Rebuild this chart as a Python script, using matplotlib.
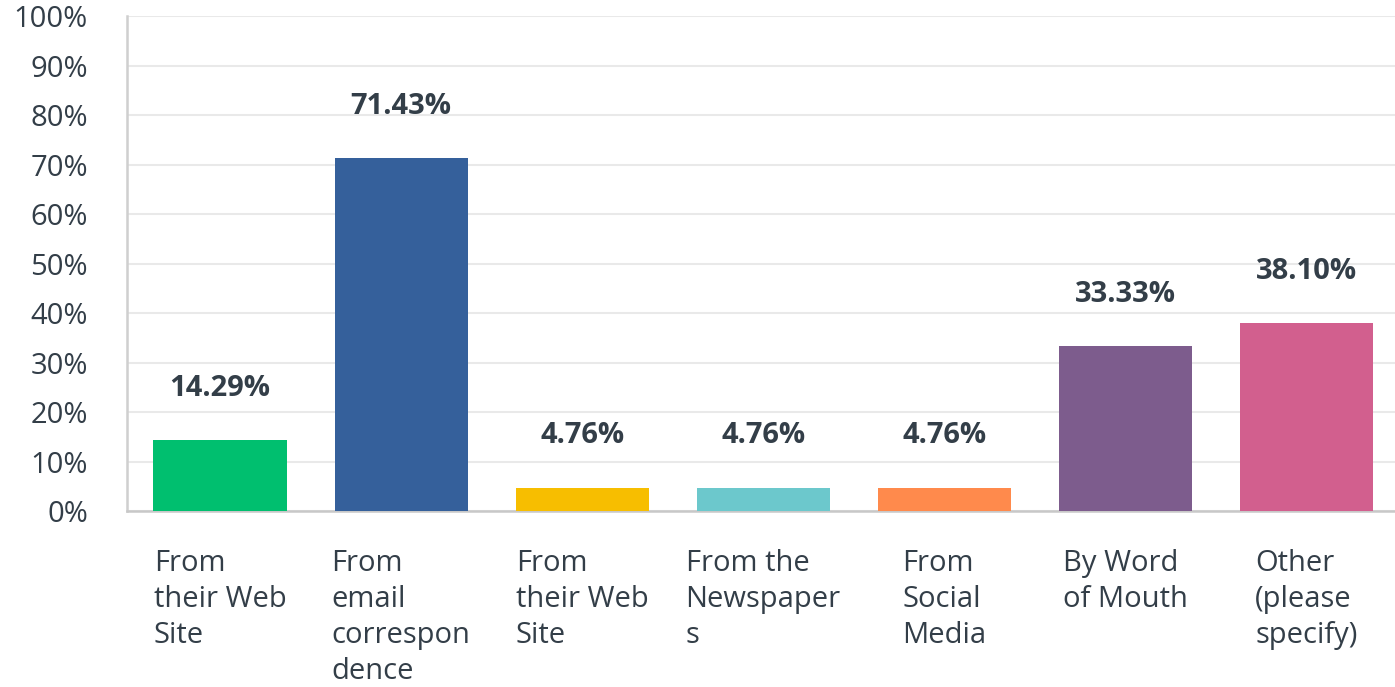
import numpy as np
import matplotlib.pyplot as plt

categories = ["From\ntheir Web\nSite", "From\nemail\ncorrespon\ndence", "From\ntheir Web\nSite",
              "From the\nNewspaper\ns", "From\nSocial\nMedia", "By Word\nof Mouth", "Other\n(please\nspecify)"]
values = [14.29, 71.43, 4.76, 4.76, 4.76, 33.33, 38.10]
colors = ["#00BF6F", "#35609B", "#F7BE00", "#6CC8CC", "#FF8A4C", "#7D5C8D", "#D25F8E"]
yticks = [0, 10, 20, 30, 40, 50, 60, 70, 80, 90, 100]

plt.rcParams['font.family'] = ['Open Sans', 'DejaVu Sans']
txt = "#333E48"

fig = plt.figure(figsize=(13.95, 6.87), dpi=100)
ax = fig.add_axes([0.091, 0.256, 0.909, 0.72])

x = np.arange(len(values))
ax.bar(x, values, width=0.735, color=colors, zorder=3)
for xi, v in zip(x, values):
    ax.text(xi, v + 7.5, f"{v:.2f}%", ha='center', va='bottom',
            fontsize=21, fontweight='bold', color=txt)

ax.set_xlim(-0.514, 6.49)
ax.set_ylim(0, 100)
ax.set_yticks(yticks)
ax.set_yticklabels([f"{t}%" for t in yticks], fontsize=21, color=txt)
ax.set_xticks(x)
ax.set_xticklabels(categories, fontsize=21, color=txt, ha='center',
                   multialignment='left', va='top', linespacing=1.32)
ax.tick_params(axis='both', length=0)
ax.tick_params(axis='y', pad=28)
ax.tick_params(axis='x', pad=27)

ax.grid(axis='y', color="#E9E9E9", linewidth=1.5, zorder=0)
for s in ['top', 'right']:
    ax.spines[s].set_visible(False)
ax.spines['left'].set_color("#CFCFCF")
ax.spines['left'].set_linewidth(1.8)
ax.spines['bottom'].set_color("#C8C8C8")
ax.spines['bottom'].set_linewidth(1.8)

fig.savefig("out.png", dpi=100)
